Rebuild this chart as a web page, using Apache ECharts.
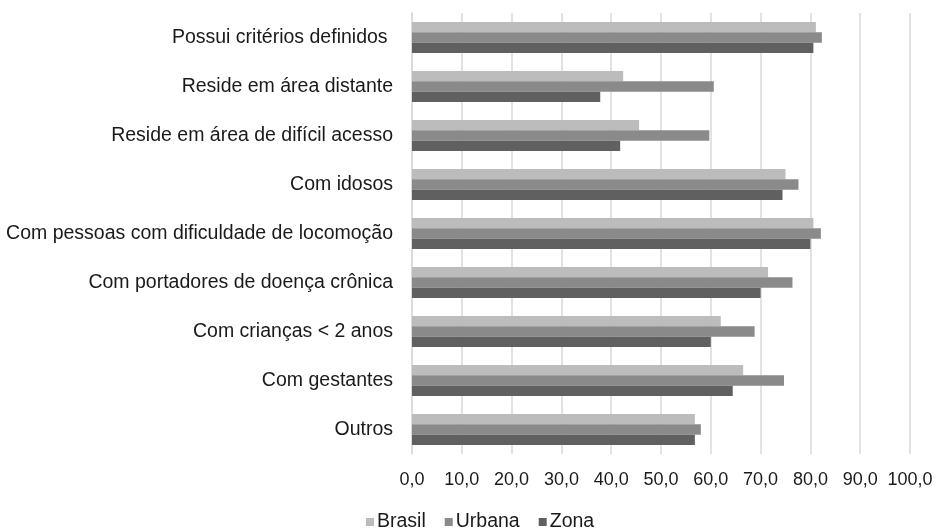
<!DOCTYPE html>
<html>
<head>
<meta charset="utf-8">
<script src="https://cdn.jsdelivr.net/npm/echarts@6/dist/echarts.min.js"></script>
<style>html,body{margin:0;padding:0;background:#fff}#c{width:937px;height:532px}</style>
</head>
<body>
<div id="c"></div>
<script>
const categories = [
  "Possui critérios definidos ",
  "Reside em área distante",
  "Reside em área de difícil acesso",
  "Com idosos",
  "Com pessoas com dificuldade de locomoção",
  "Com portadores de doença crônica",
  "Com crianças < 2 anos",
  "Com gestantes",
  "Outros"
];
const seriesNames = ["Brasil", "Urbana", "Zona"];
const brasil = [81.1, 42.4, 45.6, 75.0, 80.6, 71.5, 62.0, 66.5, 56.8];
const urbana = [82.3, 60.6, 59.7, 77.6, 82.1, 76.4, 68.8, 74.7, 58.0];
const zona   = [80.6, 37.8, 41.8, 74.4, 80.0, 70.0, 60.0, 64.4, 56.8];
const colors = ["#bcbcbc", "#8a8a8a", "#606060"];

const chart = echarts.init(document.getElementById('c'), null, {renderer: 'canvas'});
const font = "'Liberation Sans', Arial, sans-serif";
chart.setOption({
  animation: false,
  backgroundColor: '#fff',
  textStyle: {fontFamily: font},
  grid: {left: 412, right: 27, top: 13, bottom: 78, containLabel: false, outerBoundsMode: 'none'},
  legend: {
    data: seriesNames,
    bottom: 0,
    left: 361,
    padding: [0, 5, 0, 5],
    itemWidth: 8, itemHeight: 8, itemGap: 19,
    icon: 'rect',
    textStyle: {fontFamily: font, fontSize: 19.5, color: '#1a1a1a', padding: [0, 0, 0, -2]}
  },
  xAxis: {
    type: 'value', min: 0, max: 100, interval: 10,
    axisLine: {show: false}, axisTick: {show: false},
    splitLine: {lineStyle: {color: '#d9d9d9', width: 1.5}},
    axisLabel: {
      fontFamily: font, fontSize: 18, color: '#1a1a1a', margin: 17,
      formatter: v => v.toFixed(1).replace('.', ',')
    }
  },
  yAxis: {
    type: 'category', data: categories, inverse: true,
    axisLine: {show: true, lineStyle: {color: '#d9d9d9', width: 1.5}},
    axisTick: {show: false},
    axisLabel: {fontFamily: font, fontSize: 19.5, color: '#1a1a1a', margin: 19}
  },
  series: [brasil, urbana, zona].map((d, i) => ({
    name: seriesNames[i], type: 'bar', data: d,
    barGap: '0%', barCategoryGap: '37%',
    itemStyle: {color: colors[i]}
  }))
});
</script>
</body>
</html>
